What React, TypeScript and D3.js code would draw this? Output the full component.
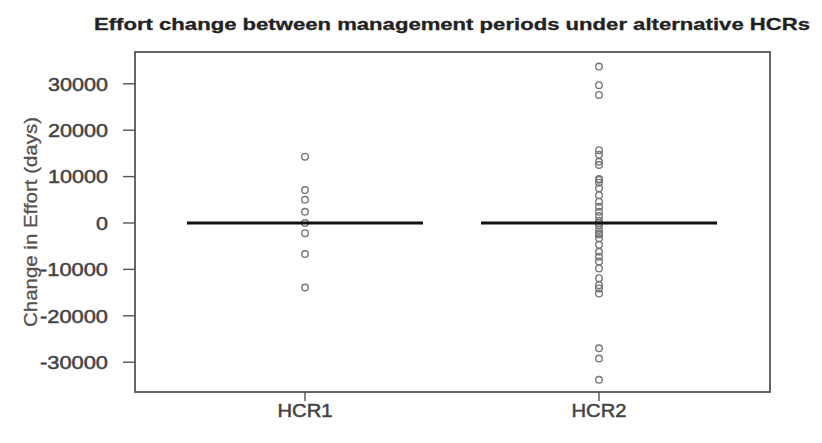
import React from "react";
import * as d3 from "d3";

const categories = ["HCR1", "HCR2"];
const yTicks = [-30000, -20000, -10000, 0, 10000, 20000, 30000];
const medians = [0, 0];
const hcr1Points = [14300, 7100, 5000, 2400, 0, -2200, -6700, -13900];
const hcr2Points = [
  33700, 29700, 27600, 15700, 14700, 13200, 12500, 9500, 9300, 8700, 7500, 6000,
  4600, 3500, 2400, 1500, 500, 0, -500, -1500, -2200, -2500, -3300, -4700, -6200,
  -7300, -8300, -9800, -11900, -13400, -14100, -15200, -27000, -29200, -33800,
];
const title = "Effort change between management periods under alternative HCRs";
const yLabel = "Change in Effort (days)";

export default function App() {
  const W = 822, H = 443;
  const left = 135, right = 770, top = 52, bottom = 392;
  const y = d3.scaleLinear().domain([-36420, 36850]).range([bottom, top]);
  const x = d3.scalePoint<string>().domain(categories).range([305, 599]);
  const halfW = 118;
  const series = [hcr1Points, hcr2Points];
  const txt = "#444";
  const tickLen = (t: number) => {
    const s = String(Math.abs(t));
    return s.length * 12 + (t < 0 ? 8 : 0);
  };
  return (
    <svg width={W} height={H} style={{ position: "absolute", left: 0, top: 0, background: "#fff" }}
      fontFamily="'Liberation Sans', Arial, sans-serif">
      <rect x={0} y={0} width={W} height={H} fill="#fff" />
      <text x={452} y={30} textAnchor="middle" fontWeight="bold" fontSize={17} fill="#222"
        stroke="#222" strokeWidth={0.3}
        textLength={716} lengthAdjust="spacingAndGlyphs">{title}</text>
      <rect x={left} y={top} width={right - left} height={bottom - top} fill="none" stroke="#555" strokeWidth={1.8} />
      {yTicks.map((t) => (
        <g key={t}>
          <line x1={left - 12} x2={left} y1={y(t)} y2={y(t)} stroke="#555" strokeWidth={1.4} />
          <text x={108} y={y(t)} dy="0.36em" textAnchor="end" fontSize={19} fill={txt}
            stroke={txt} strokeWidth={0.5}
            textLength={tickLen(t)} lengthAdjust="spacingAndGlyphs">{t}</text>
        </g>
      ))}
      <text transform={`translate(31,${(top + bottom) / 2}) rotate(-90)`} textAnchor="middle"
        dy="0.36em" fontSize={18} fill="#5a5050" stroke="#5a5050" strokeWidth={0.3}
        textLength={210} lengthAdjust="spacingAndGlyphs">{yLabel}</text>
      {categories.map((c) => (
        <g key={c}>
          <line x1={x(c)!} x2={x(c)!} y1={bottom} y2={bottom + 9} stroke="#555" strokeWidth={1.4} />
          <text x={x(c)!} y={410} dy="0.36em" textAnchor="middle" fontSize={19} fill={txt}
            stroke={txt} strokeWidth={0.5} textLength={55} lengthAdjust="spacingAndGlyphs">{c}</text>
        </g>
      ))}
      {categories.map((c, i) => (
        <g key={c}>
          {series[i].map((v, j) => (
            <circle key={j} cx={x(c)!} cy={y(v)} r={3.3} fill="none" stroke="#777" strokeWidth={1.4} />
          ))}
          <line x1={x(c)! - halfW} x2={x(c)! + halfW} y1={y(medians[i])} y2={y(medians[i])}
            stroke="#111" strokeWidth={3.2} />
        </g>
      ))}
    </svg>
  );
}
